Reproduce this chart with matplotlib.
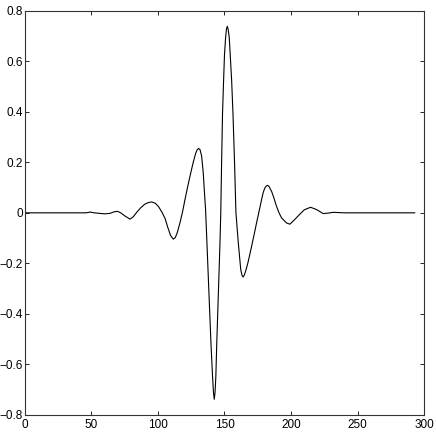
import matplotlib
matplotlib.use("Agg")
import matplotlib.pyplot as plt

# sample index and wavelet amplitude
sample_x = [0, 20, 40, 46, 49, 52, 56, 60, 64, 67, 69.5, 72, 75, 79, 81.5, 84,
            87, 90, 93, 95.2, 98, 100.5, 103, 105.3, 107.5, 109.5, 111.5, 113,
            114.5, 116.5, 118.5, 120.5, 122.5, 124.5, 126.5, 128.3, 129.5, 130.5,
            131.6, 132.8, 134.0, 134.8, 135.8, 136.8, 137.8, 138.8, 139.8, 141.0,
            141.7, 142.3, 142.9, 143.5, 144.2, 145.0, 145.8, 146.6, 147.2, 147.8,
            148.5, 149.3, 150.0, 150.8, 151.5, 152.1, 152.8, 153.6, 154.3, 155.4,
            156.4, 157.6, 158.6, 160.4, 162.2, 163.2, 164.0, 165.0, 166.2, 167.5,
            168.8, 170.4, 172.2, 174.1, 176.0, 177.9, 179.2, 180.4, 181.4, 182.4,
            183.5, 185.4, 187.2, 189.1, 191.0, 192.9, 196.6, 199.2, 202.9, 206.7,
            210.0, 214.7, 219.2, 224.2, 228, 232, 240, 260, 293]
amplitude = [0, 0, 0, 0.0, 0.003, 0.0, -0.002, -0.004, -0.002, 0.004, 0.006, 0.0,
             -0.012, -0.025, -0.015, 0.002, 0.020, 0.034, 0.041, 0.043, 0.038,
             0.024, 0.002, -0.022, -0.060, -0.090, -0.104, -0.098, -0.078, -0.040,
             0.005, 0.058, 0.108, 0.155, 0.200, 0.235, 0.250, 0.255, 0.250, 0.225,
             0.160, 0.092, 0.010, -0.119, -0.251, -0.382, -0.514, -0.646, -0.71,
             -0.738, -0.71, -0.646, -0.514, -0.382, -0.251, -0.119, 0.0, 0.191,
             0.389, 0.521, 0.626, 0.692, 0.728, 0.738, 0.725, 0.692, 0.626, 0.521,
             0.389, 0.191, 0.0, -0.120, -0.224, -0.248, -0.254, -0.245, -0.225,
             -0.200, -0.170, -0.132, -0.088, -0.040, 0.006, 0.053, 0.082, 0.099,
             0.106, 0.109, 0.104, 0.085, 0.058, 0.026, 0.000, -0.020, -0.040,
             -0.045, -0.026, -0.005, 0.012, 0.022, 0.013, -0.003, -0.001, 0.002,
             0.0, 0.0, 0.0]

x_ticks = [0, 50, 100, 150, 200, 250, 300]
y_ticks = [-0.8, -0.6, -0.4, -0.2, 0, 0.2, 0.4, 0.6, 0.8]

plt.rcParams['font.family'] = ['Liberation Sans Narrow', 'Liberation Sans', 'DejaVu Sans']

fig = plt.figure(figsize=(4.36, 4.36), dpi=100)
ax = fig.add_axes([0.0573, 0.0482, 0.9152, 0.9273])

ax.plot(sample_x, amplitude, color='black', lw=0.8)

ax.set_xlim(0, 300)
ax.set_ylim(-0.8, 0.8)
ax.set_xticks(x_ticks)
ax.set_yticks(y_ticks)
ax.set_xticklabels([str(t) for t in x_ticks])
ax.set_yticklabels(['\u22120.8', '\u22120.6', '\u22120.4', '\u22120.2', '0', '0.2', '0.4', '0.6', '0.8'])
ax.tick_params(direction='in', length=3, width=0.6, labelsize=8.5, pad=3,
               top=True, right=True)
ax.tick_params(axis='y', pad=1.5)
for s in ax.spines.values():
    s.set_linewidth(0.8)
    s.set_color('#333333')

fig.savefig('out.png', dpi=100)
